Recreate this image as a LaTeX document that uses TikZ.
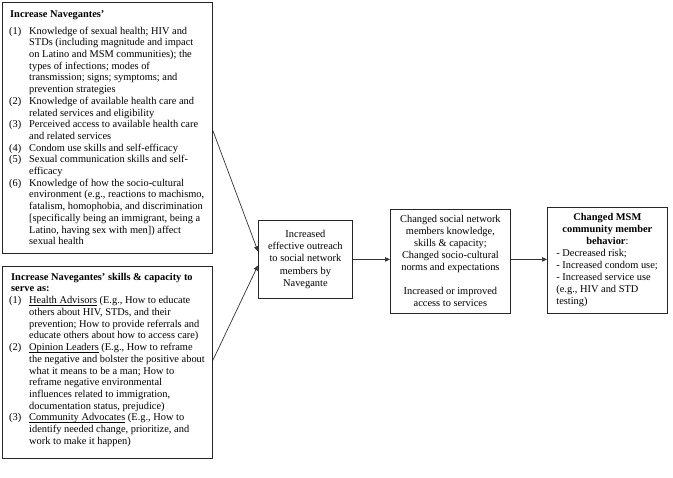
\documentclass[tikz,border=0pt]{standalone}
\usepackage{fontspec}
\setmainfont{Liberation Serif}
\usetikzlibrary{arrows.meta,calc}
\newcommand{\itm}[1]{\makebox[20pt][l]{(#1)}}
\newcommand{\ulin}[1]{\setbox0\hbox{#1}\rlap{\rule[-1.7pt]{\wd0}{0.5pt}}\box0\relax}
\begin{document}
\begin{tikzpicture}[x=1pt,y=-1pt,
  box/.style={draw=black!85,line width=0.8pt,rectangle,inner sep=0pt,anchor=north west},
  txt/.style={inner sep=0pt,font=\fontsize{10.4}{11.7}\selectfont},
  ctxt/.style={inner sep=0pt,font=\fontsize{10.4}{12}\selectfont},
  arr/.style={draw=black!80,line width=0.7pt,-{Triangle[length=5pt,width=4.5pt]}}]
\useasboundingbox (0,0) rectangle (673,478);

% boxes
\node[box,minimum width=210pt,minimum height=251pt] (b1) at (2,2) {};
\node[box,minimum width=210pt,minimum height=192pt] (b2) at (2,266) {};
\node[box,minimum width=94pt,minimum height=78pt] (out) at (258,220) {};
\node[box,minimum width=120pt,minimum height=104pt] (chg) at (390,209) {};
\node[box,minimum width=120pt,minimum height=106pt] (msm) at (547,207) {};

% box 1 text
\node[txt,anchor=base west] (t1) at (10,18) {\textbf{Increase Navegantes’}};
\node[txt,anchor=north west] (l1) at (9,25.8) {\begin{tabular}{@{}l@{}l@{}}
\itm{1} & Knowledge of sexual health; HIV and\\
& STDs (including magnitude and impact\\
& on Latino and MSM communities); the\\
& types of infections; modes of\\
& transmission; signs; symptoms; and\\
& prevention strategies\\
\itm{2} & Knowledge of available health care and\\
& related services and eligibility\\
\itm{3} & Perceived access to available health care\\
& and related services\\
\itm{4} & Condom use skills and self-efficacy\\
\itm{5} & Sexual communication skills and self-\\
& efficacy\\
\itm{6} & Knowledge of how the socio-cultural\\
& environment (e.g., reactions to machismo,\\
& fatalism, homophobia, and discrimination\\
& {[}specifically being an immigrant, being a\\
& Latino, having sex with men{]}) affect\\
& sexual health
\end{tabular}};

% box 2 text
\node[txt,anchor=north west] (t2) at (11,271.8) {\begin{tabular}{@{}l@{}}
\textbf{Increase Navegantes’ skills \& capacity to}\\
\textbf{serve as:}
\end{tabular}};
\node[txt,anchor=north west] (l2) at (9,295.5) {\begin{tabular}{@{}l@{}l@{}}
\itm{1} & \ulin{Health Advisors} (E.g., How to educate\\
& others about HIV, STDs, and their\\
& prevention; How to provide referrals and\\
& educate others about how to access care)\\
\itm{2} & \ulin{Opinion Leaders} (E.g., How to reframe\\
& the negative and bolster the positive about\\
& what it means to be a man; How to\\
& reframe negative environmental\\
& influences related to immigration,\\
& documentation status, prejudice)\\
\itm{3} & \ulin{Community Advocates} (E.g., How to\\
& identify needed change, prioritize, and\\
& work to make it happen)
\end{tabular}};

% outreach text
\node[ctxt,font=\fontsize{10.4}{12.2}\selectfont] (tout) at (out.center) {\begin{tabular}{@{}c@{}}
Increased\\ effective outreach\\ to social network\\ members by\\ Navegante
\end{tabular}};

% changed text
\node[ctxt] (tchg) at ($(chg.center)+(0,1)$) {\begin{tabular}{@{}c@{}}
Changed social network\\ members knowledge,\\ skills \& capacity;\\ Changed socio-cultural\\ norms and expectations\\[12pt]
Increased or improved\\ access to services
\end{tabular}};

% MSM text
\node[ctxt] (tmsm) at ($(msm.center)+(0,0)$) {\begin{tabular}{@{}p{102pt}@{}}
\multicolumn{1}{@{}c@{}}{\textbf{Changed MSM}}\\
\multicolumn{1}{@{}c@{}}{\textbf{community member}}\\
\multicolumn{1}{@{}c@{}}{\textbf{behavior}:}\\
- Decreased risk;\\
- Increased condom use;\\
- Increased service use\\
(e.g., HIV and STD\\
testing)
\end{tabular}};

% connectors
\draw[arr] ($(b1.east)+(0,2.5)$) -- ($(out.west)+(0,-8)$);
\draw[arr] ($(b2.east)+(0,-2)$) -- ($(out.west)+(0,6)$);
\draw[arr] (out.east) -- (chg.west |- out.east);
\draw[arr] (chg.east |- out.east) -- (msm.west |- out.east);
\end{tikzpicture}
\end{document}
